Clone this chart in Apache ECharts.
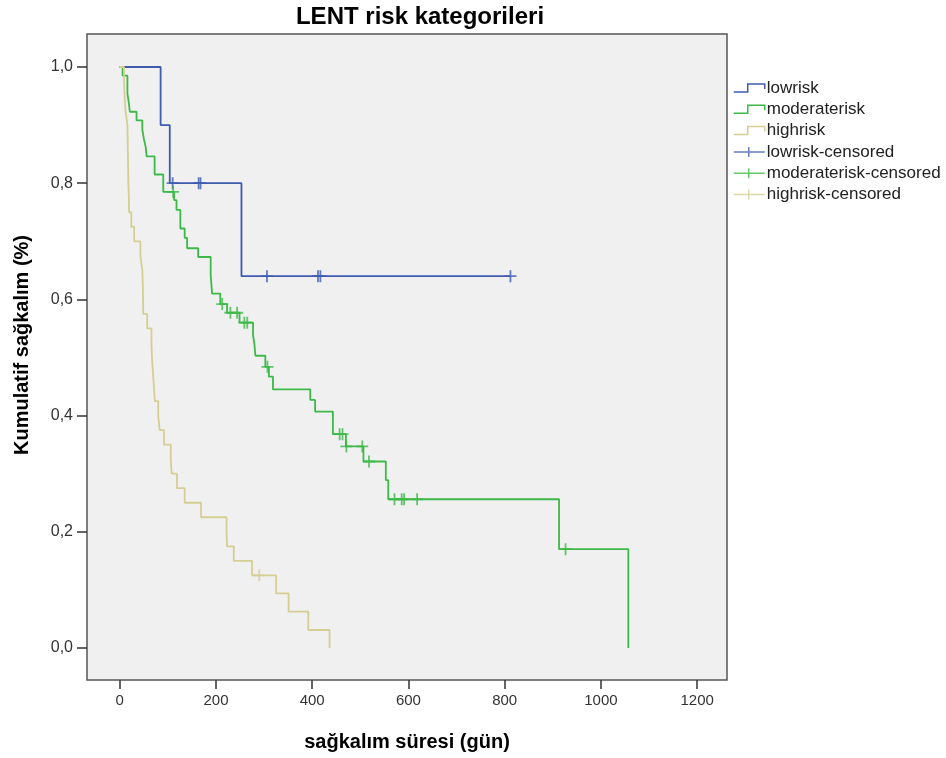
<!DOCTYPE html>
<html><head><meta charset="utf-8">
<script src="https://cdn.jsdelivr.net/npm/echarts@6/dist/echarts.min.js"></script>
<style>html,body{margin:0;padding:0;background:#fff}#c{width:946px;height:758px}</style>
</head><body><div id="c"></div>
<script>
// ---- data ----
const xTicks = [0, 200, 400, 600, 800, 1000, 1200];
const yTicks = [0, 0.2, 0.4, 0.6, 0.8, 1.0];

const lowTimes = [0, 85, 104, 253, 812];
const lowSurv  = [1.0, 0.9, 0.8, 0.64, 0.64];
const lowCensorTimes = [110, 164, 168, 306, 412, 417, 812];
const lowCensorSurv  = [0.8, 0.8, 0.8, 0.64, 0.64, 0.64, 0.64];

const modTimes = [0, 6, 16, 19, 21, 35, 47, 50, 54, 56, 72.5, 90.5, 113, 118, 126, 135, 140, 163, 189, 192, 209, 223, 249, 277, 280, 282, 302.6, 310, 318.5, 396, 406, 443, 470, 506.5, 553, 558, 913, 1057];
const modSurv  = [1.0, 0.985, 0.954, 0.938, 0.923, 0.908, 0.892, 0.877, 0.862, 0.846, 0.815, 0.785, 0.771, 0.754, 0.722, 0.706, 0.688, 0.673, 0.642, 0.610, 0.592, 0.577, 0.560, 0.539, 0.522, 0.503, 0.484, 0.467, 0.445, 0.427, 0.407, 0.368, 0.347, 0.321, 0.289, 0.256, 0.170, 0.0];
const modCensorTimes = [111, 213, 230, 244, 259, 265, 307, 457, 463, 471, 504, 518, 571, 586, 591, 618, 926.5];
const modCensorSurv  = [0.785, 0.592, 0.577, 0.577, 0.560, 0.560, 0.484, 0.368, 0.368, 0.347, 0.347, 0.321, 0.256, 0.256, 0.256, 0.256, 0.170];

const highTimes = [0, 9, 10, 12, 16, 16.5, 17, 17.5, 18, 19, 19.5, 24, 30, 43, 47, 48, 48.5, 49, 57, 66, 67, 69, 71, 73, 80, 83, 92, 106, 108, 119, 135, 169, 222, 223, 237, 275, 325, 351, 392, 436];
const highSurv  = [1.0, 0.975, 0.95, 0.925, 0.9, 0.875, 0.85, 0.825, 0.8, 0.775, 0.75, 0.725, 0.7, 0.675, 0.65, 0.625, 0.6, 0.575, 0.55, 0.525, 0.5, 0.475, 0.45, 0.425, 0.4, 0.375, 0.35, 0.325, 0.3, 0.275, 0.25, 0.225, 0.2, 0.175, 0.15, 0.125, 0.094, 0.0625, 0.031, 0.0];
const highCensorTimes = [290];
const highCensorSurv  = [0.125];

const seriesNames = ['lowrisk', 'moderaterisk', 'highrisk', 'lowrisk-censored', 'moderaterisk-censored', 'highrisk-censored'];
const colors = ['#3f5bb0', '#3cb948', '#d4ce94'];

// ---- chart ----
const FONT = '"Liberation Sans", Arial, sans-serif';
const pair = (a, b) => a.map((v, i) => [v, b[i]]);
const plusPath = 'path://M0,5L10,5M5,0L5,10';
const stepIcon = 'path://M0,8L14,8L14,0L31,0L31,5';
const legendPlus = 'path://M0,5L31,5M15,0L15,10';

function lineSeries(name, t, s, c) {
  return { name, type: 'line', step: 'end', data: pair(t, s), showSymbol: false, symbol: 'none',
    lineStyle: { color: c, width: 1.8 }, itemStyle: { color: c }, silent: true, animation: false, z: 3 };
}
function censorSeries(name, t, s, c) {
  return { name, type: 'scatter', data: pair(t, s), symbol: plusPath, symbolSize: [12, 12],
    itemStyle: { color: 'rgba(0,0,0,0)', borderColor: c, borderWidth: 1.8 }, silent: true, animation: false, z: 4 };
}
function legendItem(i, icon, c) {
  return { name: seriesNames[i], icon, itemStyle: { color: 'rgba(0,0,0,0)', borderColor: c, borderWidth: 1.5 } };
}

const chart = echarts.init(document.getElementById('c'), null, { renderer: 'canvas' });
chart.setOption({
  animation: false,
  backgroundColor: '#ffffff',
  grid: { left: 87, top: 34, width: 640, height: 646, show: true, backgroundColor: '#f0f0f0',
    borderColor: '#555', borderWidth: 1.5, containLabel: false },
  xAxis: {
    type: 'value', min: -68, max: 1262,
    axisLine: { show: false, onZero: false }, splitLine: { show: false },
    axisTick: { show: true, customValues: xTicks, length: 9, lineStyle: { color: '#333', width: 1.5 } },
    axisLabel: { customValues: xTicks, margin: 13, color: '#333', fontSize: 15, fontFamily: FONT,
      formatter: v => String(v) }
  },
  yAxis: {
    type: 'value', min: -0.0551, max: 1.0568,
    axisLine: { show: false, onZero: false }, splitLine: { show: false },
    axisTick: { show: true, customValues: yTicks, length: 10, lineStyle: { color: '#333', width: 1.5 } },
    axisLabel: { customValues: yTicks, margin: 14, color: '#333', fontSize: 16, fontFamily: FONT,
      formatter: v => v.toFixed(1).replace('.', ',') }
  },
  legend: {
    orient: 'vertical', left: 733, top: 79, padding: 0, itemGap: 3.3,
    itemWidth: 31, itemHeight: 10, selectedMode: false,
    textStyle: { fontSize: 17, fontFamily: FONT, color: '#222', lineHeight: 18, padding: [0, 0, 0, -3] },
    data: [
      legendItem(0, stepIcon, colors[0]),
      legendItem(1, stepIcon, colors[1]),
      legendItem(2, stepIcon, colors[2]),
      legendItem(3, legendPlus, colors[0]),
      legendItem(4, legendPlus, colors[1]),
      legendItem(5, legendPlus, colors[2])
    ]
  },
  graphic: [
    { type: 'text', x: 420, y: 17, style: { text: 'LENT risk kategorileri', font: 'bold 24px ' + FONT,
      fill: '#000', textAlign: 'center', textVerticalAlign: 'middle' } },
    { type: 'text', x: 22, y: 345, rotation: Math.PI / 2, style: { text: 'Kumulatif sağkalım (%)', font: 'bold 20px ' + FONT,
      fill: '#000', textAlign: 'center', textVerticalAlign: 'middle' } },
    { type: 'text', x: 407, y: 742, style: { text: 'sağkalım süresi (gün)', font: 'bold 20px ' + FONT,
      fill: '#000', textAlign: 'center', textVerticalAlign: 'middle' } }
  ],
  series: [
    lineSeries(seriesNames[0], lowTimes, lowSurv, colors[0]),
    lineSeries(seriesNames[1], modTimes, modSurv, colors[1]),
    lineSeries(seriesNames[2], highTimes, highSurv, colors[2]),
    censorSeries(seriesNames[3], lowCensorTimes, lowCensorSurv, colors[0]),
    censorSeries(seriesNames[4], modCensorTimes, modCensorSurv, colors[1]),
    censorSeries(seriesNames[5], highCensorTimes, highCensorSurv, colors[2])
  ]
});
</script></body></html>
